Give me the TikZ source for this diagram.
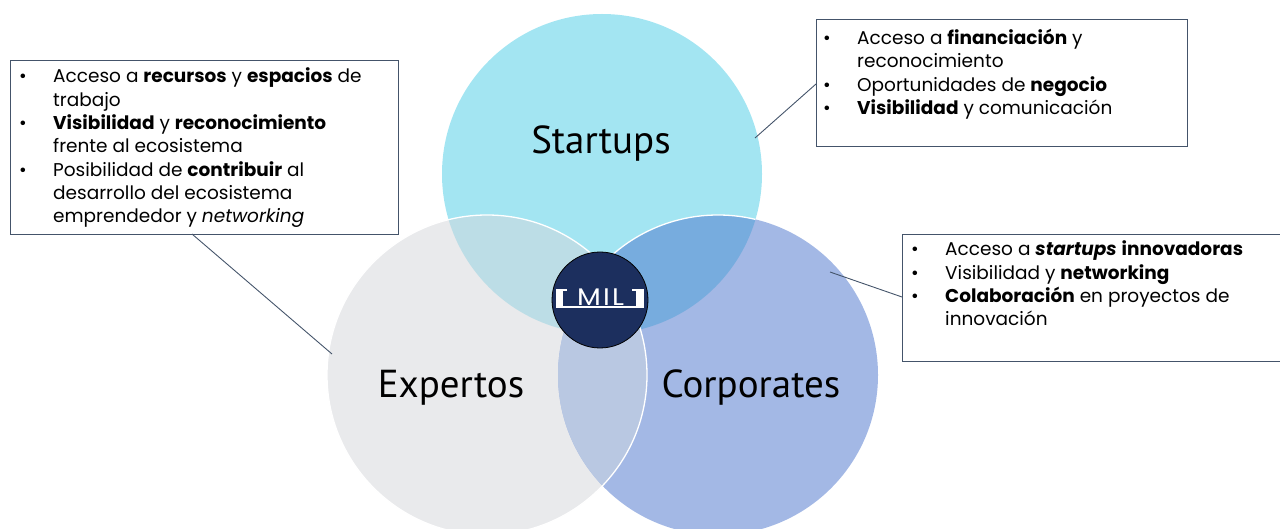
\documentclass[tikz,border=0pt]{standalone}
\usepackage{fontspec}
\setmainfont{Poppins}
\newfontfamily\labelfont{PT Sans}
\newfontfamily\logofont[LetterSpace=8]{Poppins}
\usepackage{array}
\definecolor{cstart}{HTML}{A3E5F2}
\definecolor{cexp}{HTML}{E9EAEC}
\definecolor{ccorp}{HTML}{A3B8E5}
\definecolor{cse}{HTML}{BCDDE6}
\definecolor{csc}{HTML}{77ACDE}
\definecolor{cec}{HTML}{B9C8E2}
\definecolor{csec}{HTML}{8FB8DC}
\definecolor{cnavy}{HTML}{1C2F5E}
\definecolor{boxc}{HTML}{44546A}
\tikzset{
  vennlabel/.style={font=\labelfont\fontsize{39}{39}\selectfont, anchor=base, inner sep=0},
  infobox/.style={draw=boxc, line width=1pt, anchor=north west, inner sep=0},
  bullettext/.style={anchor=base west, inner sep=0, font=\fontsize{18.5}{23.3}\selectfont},
  leader/.style={draw=boxc, line width=0.9pt},
}
\newcommand{\bul}{\textbullet}
\begin{document}
\begin{tikzpicture}[x=1pt,y=-1pt]
\useasboundingbox (0,0) rectangle (1280,529);
\def\Sc{(602,174) circle (160)}
\def\Ec{(487,375) circle (160)}
\def\Cc{(718,375) circle (160)}
% base fills
\fill[cstart] \Sc;
\fill[cexp] \Ec;
\fill[ccorp] \Cc;
% overlaps
\begin{scope}\clip \Sc; \fill[cse] \Ec; \end{scope}
\begin{scope}\clip \Sc; \fill[csc] \Cc; \end{scope}
\begin{scope}\clip \Ec; \fill[cec] \Cc; \end{scope}
\begin{scope}\clip \Sc; \clip \Ec; \fill[csec] \Cc; \end{scope}
% white arcs
\draw[white, line width=1.3pt] \Ec;
\begin{scope}\clip \Sc; \draw[white, line width=1.3pt] \Cc; \end{scope}
% named circle nodes for connectors
\node[circle, minimum size=320pt, inner sep=0] (startups) at (602,174) {};
\node[circle, minimum size=320pt, inner sep=0] (expertos) at (487,375) {};
\node[circle, minimum size=320pt, inner sep=0] (corporates) at (718,375) {};
% labels
\node[vennlabel] (lstart) at (601,154) {Startups};
\node[vennlabel] (lexp) at (451,397) {Expertos};
\node[vennlabel] (lcorp) at (751,397) {Corporates};
% MIL logo
\node[circle, fill=cnavy, draw=black, line width=0.8pt, minimum size=96pt, inner sep=0] (mil) at (600,300) {};
\fill[white] (555.5,289) rectangle (563,308);
\fill[white] (555.5,289) rectangle (567,291.5);
\fill[white] (636,289) rectangle (643.5,308);
\fill[white] (632,289) rectangle (643.5,291.5);
\fill[white] (555.5,306.2) rectangle (643.5,308);
\node[font=\logofont\fontsize{24}{24}\selectfont, text=white, anchor=base, inner sep=0] (miltext) at (600.5,305.5) {\scalebox{1.15}[1]{MIL}};
% boxes
\node[infobox, minimum width=388pt, minimum height=174pt] (lbox) at (10,60) {};
\node[infobox, minimum width=371pt, minimum height=127pt] (trbox) at (816,19) {};
\node[infobox, minimum width=400pt, minimum height=127pt] (brbox) at (902,234) {};
\node[bullettext] (ltext) at (19,83) {\begin{tabular}[t]{@{}p{34pt}@{}l@{}}
\bul & Acceso a \textbf{recursos} y \textbf{espacios} de\\
 & trabajo\\
\bul & \textbf{Visibilidad} y \textbf{reconocimiento}\\
 & frente al ecosistema\\
\bul & Posibilidad de \textbf{contribuir} al\\
 & desarrollo del ecosistema\\
 & emprendedor y \textit{networking}
\end{tabular}};
\node[bullettext] (trtext) at (823,44.5) {\begin{tabular}[t]{@{}p{34pt}@{}l@{}}
\bul & Acceso a \textbf{financiación} y\\
 & reconocimiento\\
\bul & Oportunidades de \textbf{negocio}\\
\bul & \textbf{Visibilidad} y comunicación
\end{tabular}};
\node[bullettext] (brtext) at (911,256) {\begin{tabular}[t]{@{}p{34pt}@{}l@{}}
\bul & Acceso a \textbf{\textit{startups}} \textbf{innovadoras}\\
\bul & Visibilidad y \textbf{networking}\\
\bul & \textbf{Colaboración} en proyectos de\\
 & innovación
\end{tabular}};
% connectors
\coordinate (lbpt) at (192,234);
\coordinate (expt) at (332,354);
\coordinate (trpt) at (816,84);
\coordinate (stpt) at (755,138);
\coordinate (brpt) at (902,297);
\coordinate (copt) at (830,272);
\draw[leader] (lbpt) -- (expt);
\draw[leader] (trpt) -- (stpt);
\draw[leader] (brpt) -- (copt);
\end{tikzpicture}
\end{document}
